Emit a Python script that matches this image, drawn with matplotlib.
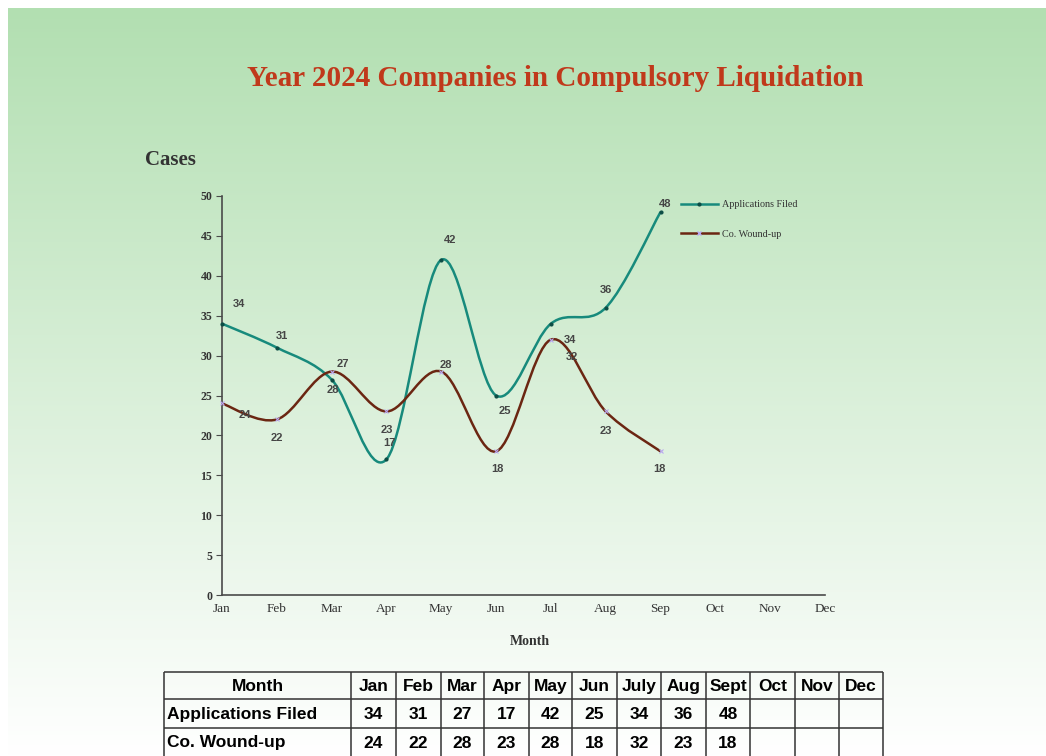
import numpy as np
import matplotlib
matplotlib.use('Agg')
import matplotlib.pyplot as plt
from matplotlib.path import Path
from matplotlib.patches import PathPatch
from matplotlib.lines import Line2D

# chart data
months = ['Jan', 'Feb', 'Mar', 'Apr', 'May', 'Jun', 'Jul', 'Aug', 'Sep', 'Oct', 'Nov', 'Dec']
table_months = ['Jan', 'Feb', 'Mar', 'Apr', 'May', 'Jun', 'July', 'Aug', 'Sept', 'Oct', 'Nov', 'Dec']
apps = [34, 31, 27, 17, 42, 25, 34, 36, 48]
wound = [24, 22, 28, 23, 28, 18, 32, 23, 18]
series_names = ['Applications Filed', 'Co. Wound-up']

# where each value label sits, in pixels from its point
apps_off = [(17, 20), (5, 12), (11, 16), (3, 16), (9, 20), (9, -16), (19, -16), (0, 18), (5, 8)]
wound_off = [(23, -12), (0, -19), (1, -18), (0, -19), (5, 7), (1, -18), (21, -17), (0, -20), (-1, -18)]

teal = '#178a7c'
brown = '#6b2612'
W, H = 1046, 756


def smooth_path(y):
    # excel style smoothed line: cubic bezier through every point
    x = np.arange(len(y), dtype=float)
    p = np.column_stack([x, np.asarray(y, float)])
    n = len(p)
    verts = [p[0]]
    codes = [Path.MOVETO]
    for i in range(n - 1):
        a = p[i - 1] if i > 0 else p[i]
        d = p[i + 2] if i + 2 < n else p[i + 1]
        c1 = p[i] + (p[i + 1] - a) / 6.0
        c2 = p[i + 1] - (d - p[i]) / 6.0
        verts += [c1, c2, p[i + 1]]
        codes += [Path.CURVE4] * 3
    return Path(verts, codes)


fig = plt.figure(figsize=(W / 100, H / 100), dpi=100)

# background: white margin, green fading to white
bg = fig.add_axes([0, 0, 1, 1])
bg.set_xlim(0, W)
bg.set_ylim(H, 0)
bg.axis('off')
top = np.array([178, 223, 177]) / 255.0
t = np.linspace(0, 1, 256)[:, None]
grad = top[None, :] * (1 - t) + np.ones(3)[None, :] * t
grad = np.clip(grad, 0, 1)[:, None, :]
bg.imshow(grad, extent=[8, W, H, 8], aspect='auto', zorder=0)

fig.text(555 / W, 1 - 79 / H, 'Year 2024 Companies in Compulsory Liquidation',
         ha='center', va='center', family='Liberation Serif', weight='bold',
         fontsize=21, color='#c0391b')
fig.text(145 / W, 1 - 160 / H, 'Cases', ha='left', va='center',
         family='Liberation Serif', weight='bold', fontsize=15, color='#333333')

ax = fig.add_axes([222 / W, 1 - 595 / H, (825 - 222) / W, (595 - 196) / H])
ax.patch.set_alpha(0)
ax.set_xlim(0, 11)
ax.set_ylim(0, 50)
ax.set_yticks(range(0, 51, 5))
ax.set_xticks(range(12))
ax.set_xticklabels(months)
for s in ['top', 'right']:
    ax.spines[s].set_visible(False)
for s in ['left', 'bottom']:
    ax.spines[s].set_color('#4a4a4a')
    ax.spines[s].set_linewidth(1.2)
ax.tick_params(axis='y', length=4, color='#4a4a4a', pad=3)
ax.tick_params(axis='x', length=0, pad=6)
for lab in ax.get_xticklabels():
    lab.set_family('Liberation Serif')
    lab.set_fontsize(9.5)
    lab.set_color('#333333')
for lab in ax.get_yticklabels():
    lab.set_family('Liberation Serif')
    lab.set_fontsize(8.5)
    lab.set_color('#333333')
    lab.set_weight('bold')
ax.set_xlabel('Month', family='Liberation Serif', weight='bold', fontsize=10,
              color='#333333')
ax.xaxis.set_label_coords((530 - 222) / 603, -0.1)

for vals, col, offs, mk, mc in [(apps, teal, apps_off, 'o', '#0d4d45'),
                                (wound, brown, wound_off, 'x', '#b9a8f0')]:
    ax.add_patch(PathPatch(smooth_path(vals), fill=False, edgecolor=col, lw=1.8,
                           zorder=3))
    xs = np.arange(len(vals))
    ax.plot(xs, vals, ls='none', marker=mk, ms=2.2, color=mc, mew=0.8, zorder=4,
            clip_on=False)
    for x, v, (dx, dy) in zip(xs, vals, offs):
        ax.annotate(str(v), (x, v), xytext=(dx, dy), textcoords='offset pixels',
                    ha='center', va='center', family='Liberation Sans',
                    weight='bold', fontsize=8, color='#454545', zorder=5)

handles = [Line2D([], [], color=teal, lw=1.8, marker='o', ms=2, mfc='#0d4d45',
                  mec='#0d4d45'),
           Line2D([], [], color=brown, lw=1.8, marker='x', ms=2.2, mec='#b9a8f0')]
leg = fig.legend(handles, series_names, loc='upper left',
                 bbox_to_anchor=(672 / W, 1 - 191 / H), frameon=False,
                 prop={'family': 'Liberation Serif', 'size': 7.3},
                 handlelength=3.6, handletextpad=0.4, labelspacing=2.0)
for txt in leg.get_texts():
    txt.set_color('#333333')

# data table under the chart
col_edges = [164, 351, 396, 441, 484, 529, 572, 617, 661, 706, 750, 795, 839, 883]
row_edges = [672, 699, 728, 758]
bg.hlines(row_edges, col_edges[0], col_edges[-1], color='#333333', lw=1.1, zorder=2)
bg.vlines(col_edges, row_edges[0], row_edges[-1], color='#333333', lw=1.1, zorder=2)
rows = [['Month'] + table_months,
        [series_names[0]] + [str(v) for v in apps],
        [series_names[1]] + [str(v) for v in wound]]
for r, cells in enumerate(rows):
    yc = (row_edges[r] + row_edges[r + 1]) / 2 + 1
    if r == 2:
        yc -= 1
    for c, txt in enumerate(cells):
        if c == 0 and r > 0:
            x, ha = col_edges[0] + 3, 'left'
        else:
            x, ha = (col_edges[c] + col_edges[c + 1]) / 2, 'center'
        bg.text(x, yc, txt, ha=ha, va='center', family='Liberation Sans',
                weight='bold', fontsize=12.5, color='black', zorder=3)

fig.savefig('out.png', dpi=100)
